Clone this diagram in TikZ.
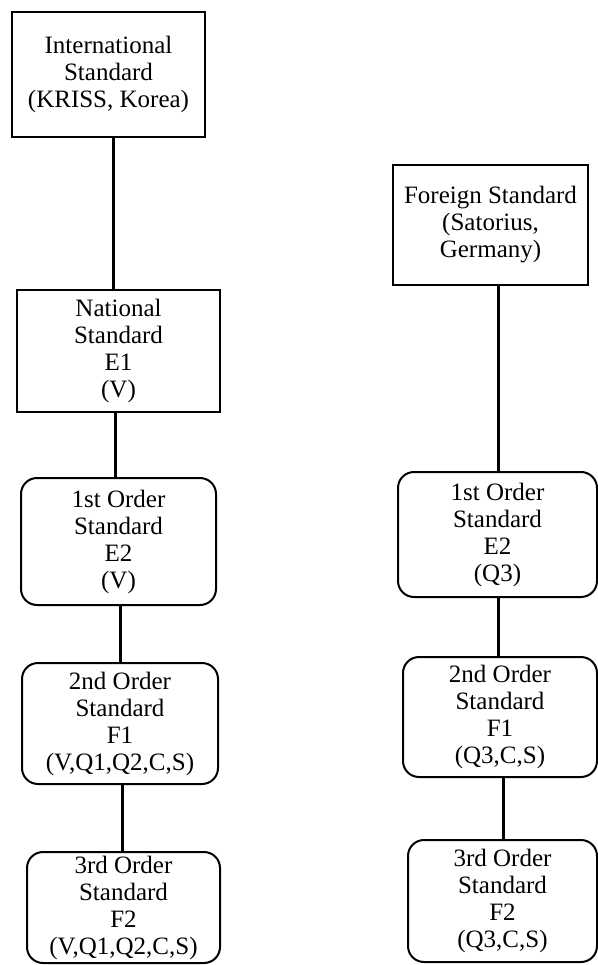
\documentclass[tikz,border=0pt]{standalone}
\usepackage{fontspec}
\setmainfont{Liberation Serif}
\begin{document}
\begin{tikzpicture}[x=1pt,y=-1pt,
  box/.style={draw=black,line width=2pt,align=center,inner sep=0pt,
    font=\fontsize{25}{27}\selectfont},
  rbox/.style={box,rounded corners=16pt},
  link/.style={line width=3pt}]
\useasboundingbox (0,0) rectangle (597,965);
% left column
\node[box,minimum width=193pt,minimum height=125pt] (intl) at (108.5,74.5) {International\\Standard\\(KRISS, Korea)};
\node[box,minimum width=203pt,minimum height=122pt] (nat) at (118.5,351) {National\\Standard\\E1\\(V)};
\node[rbox,minimum width=195pt,minimum height=127pt] (lone) at (118.5,541.5) {1st Order\\Standard\\E2\\(V)};
\node[rbox,minimum width=196pt,minimum height=121pt] (ltwo) at (120,723.5) {2nd Order\\Standard\\F1\\(V,Q1,Q2,C,S)};
\node[rbox,minimum width=193pt,minimum height=111pt] (lthree) at (123.5,907.5) {3rd Order\\Standard\\F2\\(V,Q1,Q2,C,S)};
% right column
\node[box,minimum width=195pt,minimum height=120pt] (forn) at (490.5,225) {Foreign Standard\\(Satorius,\\Germany)};
\node[rbox,minimum width=199pt,minimum height=125pt] (rone) at (497.5,534.5) {1st Order\\Standard\\E2\\(Q3)};
\node[rbox,minimum width=194pt,minimum height=120pt] (rtwo) at (500,717) {2nd Order\\Standard\\F1\\(Q3,C,S)};
\node[rbox,minimum width=189pt,minimum height=122pt] (rthree) at (502.5,901) {3rd Order\\Standard\\F2\\(Q3,C,S)};
% connectors
\draw[link] ([xshift=4.5pt]intl.south) -- ([xshift=-5.5pt]nat.north);
\draw[link] ([xshift=-3.5pt]nat.south) -- ([xshift=-3.5pt]lone.north);
\draw[link] ([xshift=1.5pt]lone.south) -- ([xshift=0pt]ltwo.north);
\draw[link] ([xshift=2pt]ltwo.south) -- ([xshift=-1.5pt]lthree.north);
\draw[link] ([xshift=7.5pt]forn.south) -- ([xshift=0.5pt]rone.north);
\draw[link] ([xshift=0.5pt]rone.south) -- ([xshift=-2pt]rtwo.north);
\draw[link] ([xshift=3pt]rtwo.south) -- ([xshift=0.5pt]rthree.north);
\end{tikzpicture}
\end{document}
